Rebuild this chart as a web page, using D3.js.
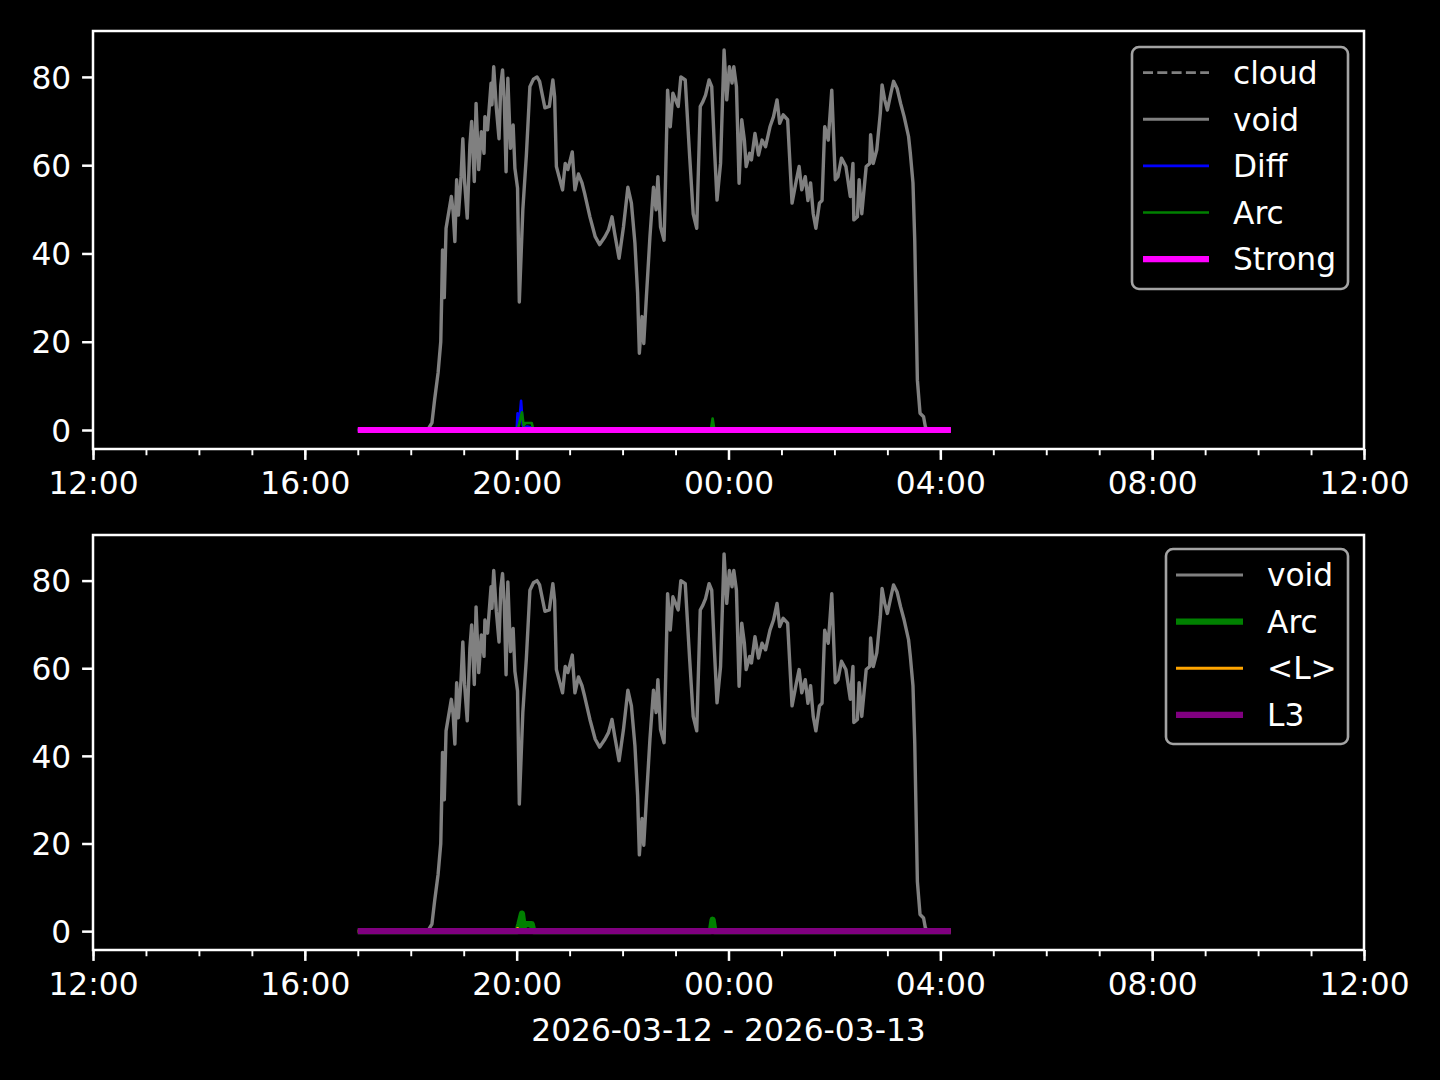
<!DOCTYPE html>
<html><head><meta charset="utf-8">
<script src="https://cdn.jsdelivr.net/npm/d3@7"></script>
<style>body{margin:0;background:#000}svg{display:block}</style>
</head><body><svg id="c" width="1440" height="1080"></svg>
<script>
// ---------------- data ----------------
const xLabel = "2026-03-12 - 2026-03-13";
const xTickLabels = ["12:00","16:00","20:00","00:00","04:00","08:00","12:00"];
const yTicks = [0, 20, 40, 60, 80];

const voidTimes = [
"17:00","18:20","18:24","18:27","18:31","18:34","18:35","18:36","18:38","18:40",
"18:46","18:48","18:50","18:52","18:54","18:57","18:59","19:01","19:04","19:07",
"19:09","19:12","19:14","19:17","19:20","19:23","19:24","19:27","19:31","19:32",
"19:34","19:37","19:40","19:42","19:44","19:46","19:48","19:50","19:53","19:56",
"19:58","20:01","20:03","20:07","20:11","20:15","20:19","20:23","20:26","20:29",
"20:32","20:37","20:41","20:43","20:45","20:48","20:52","20:55","20:58","21:03",
"21:06","21:10","21:14","21:17","21:23","21:29","21:34","21:40","21:44","21:48",
"21:51","21:56","22:01","22:06","22:10","22:14","22:17","22:19","22:22","22:24",
"22:27","22:31","22:35","22:38","22:40","22:43","22:47","22:48","22:51","22:54",
"22:57","23:03","23:06","23:11","23:16","23:20","23:24","23:28","23:31","23:34",
"23:38","23:41","23:44","23:47","23:51","23:55","23:58","00:01","00:04","00:06",
"00:09","00:12","00:15","00:18","00:20","00:24","00:26","00:30","00:34","00:38",
"00:42","00:47","00:51","00:55","00:58","01:02","01:07","01:12","01:17","01:20",
"01:23","01:27","01:30","01:33","01:36","01:39","01:43","01:46","01:49","01:53",
"01:57","02:01","02:04","02:08","02:13","02:18","02:21","02:22","02:26","02:28",
"02:31","02:36","02:40","02:41","02:44","02:48","02:52","02:54","02:57","03:00",
"03:04","03:07","03:11","03:15","03:19","03:24","03:26","03:29","03:31","03:34",
"03:37","03:41","03:43","03:45","04:12"];
const voidValues = [
0,0.3,1.6,6.8,13,20,29.5,40.8,30,45.7,
52.9,49.5,42.7,56.7,48.7,57.4,66,56.3,48,64.6,
69.9,56.3,74,59,67.6,62.7,71,68,78.6,73.7,
82.3,72.9,66,78.2,81.6,74.4,58.5,79.7,63.8,69.1,
59.3,54.8,29,50,62.3,77.8,79.5,80,79,76,
73,73.3,79.3,75.5,59.7,57.4,54.4,60.4,59,63,
54.4,58,56,53.6,48.3,43.8,42,43.8,45.3,48.3,
44.6,38.9,46,55,51.4,42.3,31,17.4,25.7,19.6,
30.2,43.8,55,49.9,57.4,46,43,50.6,77,68.7,
76.3,73.3,80,79.3,62,49,45.7,73.3,74.4,75.9,
79.3,77.8,64.2,52.1,60.4,86.1,74.8,82.3,78.6,82.3,
77.8,55.9,70.3,65.7,59.7,62.7,61.2,67.2,62.3,65.7,
64.2,68.7,71,74.8,69.5,71.4,70.3,51.4,56.7,59.7,
54.4,57.4,52,56,49,45.7,51.4,52,68.7,65.7,
77,56.7,57.4,61.6,59.7,52.9,60.4,47.6,48.3,56.7,
49,59.7,60.4,66.9,60.4,63.5,71.8,78.2,74.8,72.5,
76.3,79,77.4,74,71,66.5,62.7,56,43,11.3,
3.8,3,0.8,0,0];

const cloudTimes = ["17:00","04:12"];
const cloudValues = [0, 0];

const diffTimes = ["17:00","20:00","20:01","20:03","20:05","20:07","20:08","20:12","20:18","20:20","22:09","22:10","22:11","04:12"];
const diffValues = [0,0,3.8,2.0,6.6,1.0,0.5,0.8,0.5,0,0,0.3,0,0];

const arcTimes = ["17:00","20:01","20:03","20:06","20:08","20:10","20:17","20:19","23:40","23:42","23:44","04:12"];
const arcValues = [0,0,1.5,4.0,1.0,1.6,1.6,0,0,2.6,0,0];

const strongTimes = ["17:00","04:12"];
const strongValues = [0, 0];

const lAvgTimes = ["17:00","20:00","20:01","20:02","04:12"];
const lAvgValues = [0,0,0.6,0,0];

const l3Times = ["17:00","04:12"];
const l3Values = [0, 0];

// ---------------- helpers ----------------
function toDate(hm){
  const [h,m] = hm.split(":").map(Number);
  return h < 12 ? new Date(2026,2,13,h,m) : new Date(2026,2,12,h,m);
}
function series(times, values){ return times.map((t,i)=>({t:toDate(t), v:values[i]})); }

const FONT = "DejaVu Sans, Liberation Sans, sans-serif";
const FS = 31.25;
const svg = d3.select("#c");
svg.append("rect").attr("width",1440).attr("height",1080).attr("fill","#000");

const xDomain = [new Date(2026,2,12,12,0), new Date(2026,2,13,12,0)];
const allVals = voidValues.concat(diffValues, arcValues, strongValues, lAvgValues, l3Values, cloudValues);
const vmin = d3.min(allVals), vmax = d3.max(allVals);
const pad = (vmax - vmin) * 0.05;
const yDomain = [vmin - pad, vmax + pad];

const X0 = 93, X1 = 1364;

function drawPanel(top, bottom, lines, legendItems, legendBox){
  const x = d3.scaleTime().domain(xDomain).range([X0, X1]);
  const y = d3.scaleLinear().domain(yDomain).range([bottom, top]);
  const g = svg.append("g");

  const clipId = "clip" + top;
  svg.append("clipPath").attr("id", clipId).append("rect")
    .attr("x", X0).attr("y", top).attr("width", X1-X0).attr("height", bottom-top);

  const plot = g.append("g").attr("clip-path", `url(#${clipId})`);
  const line = d3.line().x(d=>x(d.t)).y(d=>y(d.v));
  lines.forEach(L=>{
    plot.append("path").datum(series(L.times, L.values))
      .attr("d", line).attr("fill","none")
      .attr("stroke", L.color).attr("stroke-width", L.width)
      .attr("stroke-linejoin","round").attr("stroke-linecap","butt")
      .attr("stroke-dasharray", L.dash || null);
  });

  // minor x ticks
  const minor = g.append("g").attr("transform", `translate(0,${bottom})`)
    .call(d3.axisBottom(x).ticks(d3.timeHour.every(1)).tickSize(6.25).tickFormat(""));
  minor.select(".domain").remove();
  minor.selectAll("line").attr("stroke","#fff").attr("stroke-width",1.9);

  // major x ticks
  const majorVals = xTickLabels.map((s,i)=> new Date(2026,2,12,12 + 4*i, 0));
  const xa = g.append("g").attr("transform", `translate(0,${bottom})`)
    .call(d3.axisBottom(x).tickValues(majorVals).tickSize(10.9).tickPadding(12.4)
      .tickFormat((d,i)=>xTickLabels[i]));
  xa.select(".domain").remove();
  xa.selectAll("line").attr("stroke","#fff").attr("stroke-width",2.5);
  xa.selectAll("text").attr("fill","#fff").attr("font-family",FONT).attr("font-size",FS);

  // y ticks
  const ya = g.append("g").attr("transform", `translate(${X0},0)`)
    .call(d3.axisLeft(y).tickValues(yTicks).tickSize(10.9).tickPadding(10.9));
  ya.select(".domain").remove();
  ya.selectAll("line").attr("stroke","#fff").attr("stroke-width",2.5);
  ya.selectAll("text").attr("fill","#fff").attr("font-family",FONT).attr("font-size",FS).attr("dy","0.36em");

  // spines
  g.append("rect").attr("x",X0).attr("y",top).attr("width",X1-X0).attr("height",bottom-top)
    .attr("fill","none").attr("stroke","#fff").attr("stroke-width",2.5);

  // legend
  const lg = g.append("g");
  lg.append("rect").attr("x",legendBox.x0).attr("y",legendBox.y0)
    .attr("width",legendBox.x1-legendBox.x0).attr("height",legendBox.y1-legendBox.y0)
    .attr("rx",7).attr("ry",7)
    .attr("fill","rgba(0,0,0,0.8)").attr("stroke","#a3a3a3").attr("stroke-width",2.6);
  legendItems.forEach((it,i)=>{
    const cy = legendBox.firstY + i*legendBox.step;
    lg.append("line").attr("x1",legendBox.hx0).attr("x2",legendBox.hx1)
      .attr("y1",cy).attr("y2",cy).attr("stroke",it.color).attr("stroke-width",it.width)
      .attr("stroke-dasharray", it.dash || null);
    lg.append("text").attr("x",legendBox.tx).attr("y",cy).attr("dy","0.36em")
      .attr("fill","#fff").attr("font-family",FONT).attr("font-size",FS).text(it.label);
  });
  return x;
}

const C = {cloud:"#808080", void:"#808080", diff:"#0000ff", arc:"#008000", strong:"#ff00ff", lavg:"#ffa500", l3:"#800080"};

// Top panel
drawPanel(31, 449, [
  {times:cloudTimes, values:cloudValues, color:C.cloud, width:2.7, dash:"10,4.3"},
  {times:voidTimes, values:voidValues, color:C.void, width:3.4},
  {times:diffTimes, values:diffValues, color:C.diff, width:2.6},
  {times:arcTimes, values:arcValues, color:C.arc, width:2.6},
  {times:strongTimes, values:strongValues, color:C.strong, width:6.2}
], [
  {label:"cloud", color:C.cloud, width:2.7, dash:"10,4.3"},
  {label:"void", color:C.void, width:3.1},
  {label:"Diff", color:C.diff, width:2.6},
  {label:"Arc", color:C.arc, width:2.6},
  {label:"Strong", color:C.strong, width:6.2}
], {x0:1132, x1:1348, y0:47, y1:289, hx0:1143, hx1:1209, tx:1233, firstY:72.7, step:46.6});

// Bottom panel
drawPanel(535, 950, [
  {times:voidTimes, values:voidValues, color:C.void, width:3.4},
  {times:arcTimes, values:arcValues, color:C.arc, width:6.2},
  {times:lAvgTimes, values:lAvgValues, color:C.lavg, width:3.1},
  {times:l3Times, values:l3Values, color:C.l3, width:6.2}
], [
  {label:"void", color:C.void, width:3.1},
  {label:"Arc", color:C.arc, width:6.2},
  {label:"<L>", color:C.lavg, width:3.1},
  {label:"L3", color:C.l3, width:6.2}
], {x0:1166, x1:1348, y0:549, y1:744, hx0:1176, hx1:1243, tx:1267, firstY:575, step:46.6});

svg.append("text").attr("x",(X0+X1)/2).attr("y",1041).attr("text-anchor","middle")
  .attr("fill","#fff").attr("font-family",FONT).attr("font-size",FS).text(xLabel);
</script>
</body></html>
